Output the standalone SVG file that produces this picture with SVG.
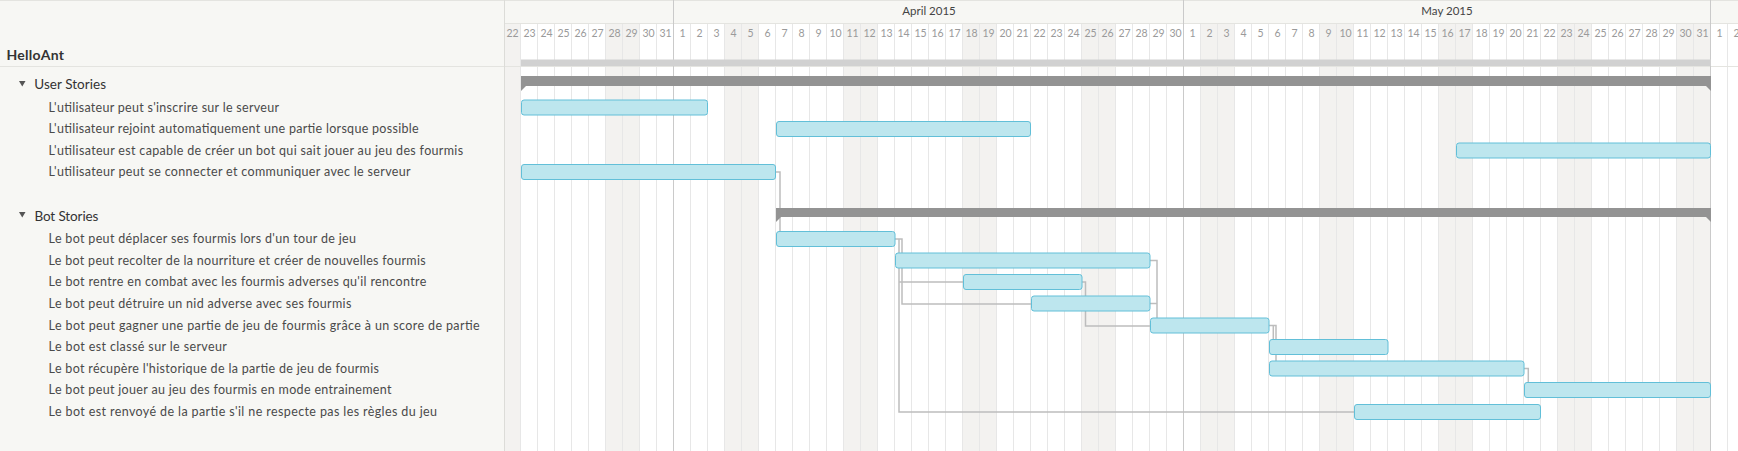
<svg xmlns="http://www.w3.org/2000/svg" width="1738" height="451" viewBox="0 0 1738 451">
<style>
.lbl{font-family:Lato,"Liberation Sans",sans-serif;font-size:12.5px;fill:#4a4a4a}
.grp{font-family:Lato,"Liberation Sans",sans-serif;font-size:13.5px;fill:#333}
.day{font-family:Lato,"Liberation Sans",sans-serif;font-size:10.5px;fill:#9a9a9a;text-anchor:middle}
.mon{font-family:Lato,"Liberation Sans",sans-serif;font-size:11.5px;fill:#444;text-anchor:middle}
.bar{fill:#bde6ee;stroke:#62bfd8;stroke-width:1}
.gbar{fill:#939393}
.we{fill:#f3f2f0}
.conn{fill:none;stroke:#bdbdbd;stroke-width:1.5}
</style>
<defs>
<pattern id="grid" x="504" y="0" width="17" height="451" patternUnits="userSpaceOnUse"><rect x="16" y="0" width="1" height="451" fill="#e7e7e7"/></pattern>
</defs>
<rect x="0" y="0" width="1738" height="451" fill="#ffffff"/>
<rect x="0" y="0" width="504" height="451" fill="#f7f7f4"/>
<rect x="504" y="0" width="1234" height="23" fill="#f7f7f4"/>
<g id="weekends">
<rect class="we" x="504" y="23" width="17" height="428"/>
<rect class="we" x="606" y="23" width="34" height="428"/>
<rect class="we" x="725" y="23" width="34" height="428"/>
<rect class="we" x="844" y="23" width="34" height="428"/>
<rect class="we" x="963" y="23" width="34" height="428"/>
<rect class="we" x="1082" y="23" width="34" height="428"/>
<rect class="we" x="1201" y="23" width="34" height="428"/>
<rect class="we" x="1320" y="23" width="34" height="428"/>
<rect class="we" x="1439" y="23" width="34" height="428"/>
<rect class="we" x="1558" y="23" width="34" height="428"/>
<rect class="we" x="1677" y="23" width="34" height="428"/>
</g>
<rect x="504" y="23" width="1234" height="428" fill="url(#grid)"/>
<g id="frame" stroke-width="1" fill="none">
<line x1="0" y1="0.5" x2="1738" y2="0.5" stroke="#e4e4e0"/>
<line x1="504" y1="23.5" x2="1738" y2="23.5" stroke="#e4e4e0"/>
<line x1="0" y1="66.5" x2="1738" y2="66.5" stroke="#e4e4e0"/>
<line x1="504.5" y1="0" x2="504.5" y2="451" stroke="#dcdcd8"/>
<line x1="673.5" y1="0" x2="673.5" y2="451" stroke="#cacaca"/>
<line x1="1183.5" y1="0" x2="1183.5" y2="451" stroke="#cacaca"/>
<line x1="1710.5" y1="0" x2="1710.5" y2="451" stroke="#cacaca"/>
</g>
<g id="months">
<text class="mon" x="929" y="15">April 2015</text>
<text class="mon" x="1447" y="15">May 2015</text>
</g>
<g id="days">
<text class="day" x="512.5" y="37">22</text><text class="day" x="529.5" y="37">23</text><text class="day" x="546.5" y="37">24</text><text class="day" x="563.5" y="37">25</text><text class="day" x="580.5" y="37">26</text><text class="day" x="597.5" y="37">27</text><text class="day" x="614.5" y="37">28</text><text class="day" x="631.5" y="37">29</text><text class="day" x="648.5" y="37">30</text><text class="day" x="665.5" y="37">31</text>
<text class="day" x="682.5" y="37">1</text><text class="day" x="699.5" y="37">2</text><text class="day" x="716.5" y="37">3</text><text class="day" x="733.5" y="37">4</text><text class="day" x="750.5" y="37">5</text><text class="day" x="767.5" y="37">6</text><text class="day" x="784.5" y="37">7</text><text class="day" x="801.5" y="37">8</text><text class="day" x="818.5" y="37">9</text><text class="day" x="835.5" y="37">10</text>
<text class="day" x="852.5" y="37">11</text><text class="day" x="869.5" y="37">12</text><text class="day" x="886.5" y="37">13</text><text class="day" x="903.5" y="37">14</text><text class="day" x="920.5" y="37">15</text><text class="day" x="937.5" y="37">16</text><text class="day" x="954.5" y="37">17</text><text class="day" x="971.5" y="37">18</text><text class="day" x="988.5" y="37">19</text><text class="day" x="1005.5" y="37">20</text>
<text class="day" x="1022.5" y="37">21</text><text class="day" x="1039.5" y="37">22</text><text class="day" x="1056.5" y="37">23</text><text class="day" x="1073.5" y="37">24</text><text class="day" x="1090.5" y="37">25</text><text class="day" x="1107.5" y="37">26</text><text class="day" x="1124.5" y="37">27</text><text class="day" x="1141.5" y="37">28</text><text class="day" x="1158.5" y="37">29</text><text class="day" x="1175.5" y="37">30</text>
<text class="day" x="1192.5" y="37">1</text><text class="day" x="1209.5" y="37">2</text><text class="day" x="1226.5" y="37">3</text><text class="day" x="1243.5" y="37">4</text><text class="day" x="1260.5" y="37">5</text><text class="day" x="1277.5" y="37">6</text><text class="day" x="1294.5" y="37">7</text><text class="day" x="1311.5" y="37">8</text><text class="day" x="1328.5" y="37">9</text><text class="day" x="1345.5" y="37">10</text>
<text class="day" x="1362.5" y="37">11</text><text class="day" x="1379.5" y="37">12</text><text class="day" x="1396.5" y="37">13</text><text class="day" x="1413.5" y="37">14</text><text class="day" x="1430.5" y="37">15</text><text class="day" x="1447.5" y="37">16</text><text class="day" x="1464.5" y="37">17</text><text class="day" x="1481.5" y="37">18</text><text class="day" x="1498.5" y="37">19</text><text class="day" x="1515.5" y="37">20</text>
<text class="day" x="1532.5" y="37">21</text><text class="day" x="1549.5" y="37">22</text><text class="day" x="1566.5" y="37">23</text><text class="day" x="1583.5" y="37">24</text><text class="day" x="1600.5" y="37">25</text><text class="day" x="1617.5" y="37">26</text><text class="day" x="1634.5" y="37">27</text><text class="day" x="1651.5" y="37">28</text><text class="day" x="1668.5" y="37">29</text><text class="day" x="1685.5" y="37">30</text>
<text class="day" x="1702.5" y="37">31</text><text class="day" x="1719.5" y="37">1</text><text class="day" x="1736.5" y="37">2</text>
</g>
<g id="project">
<text x="6.5" y="60" font-family="Lato,'Liberation Sans',sans-serif" font-size="14" font-weight="bold" fill="#333" textLength="57.5">HelloAnt</text>
<rect x="521" y="59.5" width="1190" height="6.5" fill="#d1d1d1"/>
</g>
<g id="connectors">
<path class="conn" d="M776 172H780V231"/>
<path class="conn" d="M895 239H902V304H1031"/>
<path class="conn" d="M899 239V412H1354"/>
<path class="conn" d="M899 282H963"/>
<path class="conn" d="M1150 260.5H1157V318"/>
<path class="conn" d="M1150 303.5H1157"/>
<path class="conn" d="M1082 282H1085.5V326H1150"/>
<path class="conn" d="M1269 325.5H1276V362"/>
<path class="conn" d="M1273.3 325.5V339"/>
<path class="conn" d="M1524 368.5H1528.3V382"/>
</g>
<g id="user-stories">
<polygon points="19,81 25.5,81 22.25,86.5" fill="#555"/>
<text class="grp" x="34.3" y="88.5" textLength="71.7">User Stories</text>
<rect class="gbar" x="521" y="76" width="1190" height="10"/>
<polygon class="gbar" points="521,86 526,86 521,91"/>
<polygon class="gbar" points="1711,86 1706,86 1711,91"/>
</g>
<g id="task-inscrire">
<text class="lbl" x="48.6" y="111.7" textLength="230.4">L'utilisateur peut s'inscrire sur le serveur</text>
<rect class="bar" x="521.5" y="100" width="186" height="15" rx="2.5"/>
</g>
<g id="task-rejoint">
<text class="lbl" x="48.6" y="133.2" textLength="370">L'utilisateur rejoint automatiquement une partie lorsque possible</text>
<rect class="bar" x="776.5" y="121.5" width="254" height="15" rx="2.5"/>
</g>
<g id="task-capable">
<text class="lbl" x="48.6" y="154.7" textLength="414.5">L'utilisateur est capable de créer un bot qui sait jouer au jeu des fourmis</text>
<rect class="bar" x="1456.5" y="143" width="254" height="15" rx="2.5"/>
</g>
<g id="task-connecter">
<text class="lbl" x="48.6" y="176.2" textLength="362">L'utilisateur peut se connecter et communiquer avec le serveur</text>
<rect class="bar" x="521.5" y="164.5" width="254" height="15" rx="2.5"/>
</g>
<g id="bot-stories">
<polygon points="19,212 25.5,212 22.25,217.5" fill="#555"/>
<text class="grp" x="34.4" y="221" textLength="64">Bot Stories</text>
<rect class="gbar" x="776" y="208" width="935" height="9"/>
<polygon class="gbar" points="776,217 781,217 776,222"/>
<polygon class="gbar" points="1711,217 1706,217 1711,222"/>
</g>
<g id="task-deplacer">
<text class="lbl" x="48.6" y="243.2" textLength="307.3">Le bot peut déplacer ses fourmis lors d'un tour de jeu</text>
<rect class="bar" x="776.5" y="231.5" width="118.5" height="15" rx="2.5"/>
</g>
<g id="task-recolter">
<text class="lbl" x="48.6" y="264.7" textLength="377">Le bot peut recolter de la nourriture et créer de nouvelles fourmis</text>
<rect class="bar" x="895.5" y="253" width="254.5" height="15" rx="2.5"/>
</g>
<g id="task-combat">
<text class="lbl" x="48.6" y="286.2" textLength="377.7">Le bot rentre en combat avec les fourmis adverses qu'il rencontre</text>
<rect class="bar" x="963.5" y="274.5" width="118.5" height="15" rx="2.5"/>
</g>
<g id="task-detruire">
<text class="lbl" x="48.6" y="307.7" textLength="302.7">Le bot peut détruire un nid adverse avec ses fourmis</text>
<rect class="bar" x="1031.5" y="296" width="118.5" height="15" rx="2.5"/>
</g>
<g id="task-gagner">
<text class="lbl" x="48.6" y="329.7" textLength="431">Le bot peut gagner une partie de jeu de fourmis grâce à un score de partie</text>
<rect class="bar" x="1150.5" y="318" width="118.5" height="15" rx="2.5"/>
</g>
<g id="task-classe">
<text class="lbl" x="48.6" y="351.2" textLength="178.3">Le bot est classé sur le serveur</text>
<rect class="bar" x="1269.5" y="339.5" width="118.5" height="15" rx="2.5"/>
</g>
<g id="task-recupere">
<text class="lbl" x="48.6" y="372.7" textLength="330.3">Le bot récupère l'historique de la partie de jeu de fourmis</text>
<rect class="bar" x="1269.5" y="361" width="254.5" height="15" rx="2.5"/>
</g>
<g id="task-jouer">
<text class="lbl" x="48.6" y="394.2" textLength="342.9">Le bot peut jouer au jeu des fourmis en mode entrainement</text>
<rect class="bar" x="1524.5" y="382.5" width="186" height="15" rx="2.5"/>
</g>
<g id="task-renvoye">
<text class="lbl" x="48.6" y="416.2" textLength="388.4">Le bot est renvoyé de la partie s'il ne respecte pas les règles du jeu</text>
<rect class="bar" x="1354.5" y="404.5" width="186" height="15" rx="2.5"/>
</g>
</svg>
